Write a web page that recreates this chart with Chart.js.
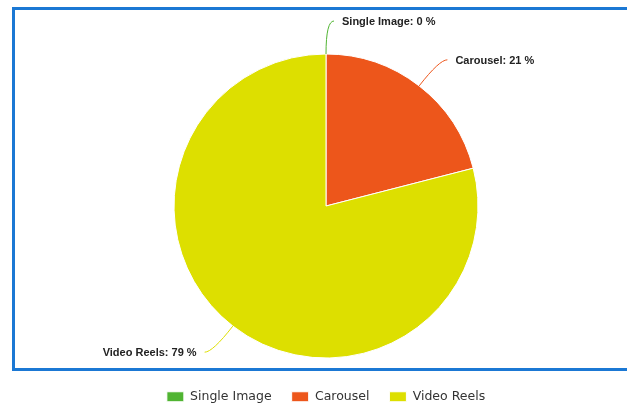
<!DOCTYPE html>
<html>
<head>
<meta charset="utf-8">
<script src="https://cdn.jsdelivr.net/npm/chart.js@4.4.0/dist/chart.umd.min.js"></script>
<style>
html, body { margin: 0; padding: 0; background: #fff; overflow: hidden; }
#wrap { position: relative; width: 627px; height: 413px; }
#frame { position: absolute; left: 12px; top: 7px; width: 640px; height: 358px; border: 3px solid #1b78d4; }
#pieChart { position: absolute; left: 0; top: 0; }
</style>
</head>
<body>
<div id="wrap">
	<div id="frame"></div>
	<canvas id="pieChart" width="627" height="413"></canvas>
</div>
<script>
// chart data
const sliceLabels = ['Single Image', 'Carousel', 'Video Reels'];
const sliceValues = [0, 21, 79];
const sliceColors = ['#50B432', '#ED561B', '#DDDF00'];

// labels outside the pie, with a little hooked connector line
const labelDistance = 33;

const pieLabels = {
	id: 'pieLabels',
	afterDatasetsDraw(chart) {
		const ctx = chart.ctx;
		const meta = chart.getDatasetMeta(0);
		const total = sliceValues.reduce((a, b) => a + b, 0);
		ctx.save();
		ctx.font = 'bold 11px "Liberation Sans", Arial, sans-serif';
		ctx.textBaseline = 'middle';
		meta.data.forEach((arc, i) => {
			const p = arc.getProps(['x', 'y', 'startAngle', 'endAngle', 'outerRadius'], true);
			const mid = (p.startAngle + p.endAngle) / 2;
			const cos = Math.cos(mid);
			const sin = Math.sin(mid);
			const side = cos < -0.0001 ? -1 : 1;
			const x0 = p.x + cos * p.outerRadius;
			const y0 = p.y + sin * p.outerRadius;
			const x1 = p.x + cos * (p.outerRadius + labelDistance);
			const y1 = p.y + sin * (p.outerRadius + labelDistance);
			const x2 = x1 + side * 8;

			ctx.strokeStyle = sliceColors[i];
			ctx.lineWidth = 1;
			ctx.beginPath();
			ctx.moveTo(x0, y0);
			ctx.quadraticCurveTo(x1, y1, x2, y1);
			ctx.stroke();

			const pct = Math.round(sliceValues[i] / total * 100);
			ctx.fillStyle = '#222';
			ctx.textAlign = side > 0 ? 'left' : 'right';
			ctx.fillText(sliceLabels[i] + ': ' + pct + ' %', x2 + side * 8, y1 + 1);
		});
		ctx.restore();
	}
};

const pieConfig = {
	type: 'pie',
	data: {
		labels: sliceLabels,
		datasets: [{
			data: sliceValues,
			backgroundColor: sliceColors,
			borderColor: '#ffffff',
			borderWidth: 1,
			radius: 152
		}]
	},
	options: {
		responsive: false,
		animation: false,
		layout: {
			padding: { top: 41.5, left: 25, right: 0, bottom: 0 }
		},
		plugins: {
			tooltip: { enabled: false },
			legend: {
				position: 'bottom',
				labels: {
					boxWidth: 17,
					boxHeight: 10,
					padding: 20,
					color: '#333',
					font: { family: '"DejaVu Sans", sans-serif', size: 12.5 }
				}
			}
		}
	},
	plugins: [pieLabels]
};

const pieChart = new Chart(document.getElementById('pieChart'), pieConfig);
</script>
</body>
</html>
